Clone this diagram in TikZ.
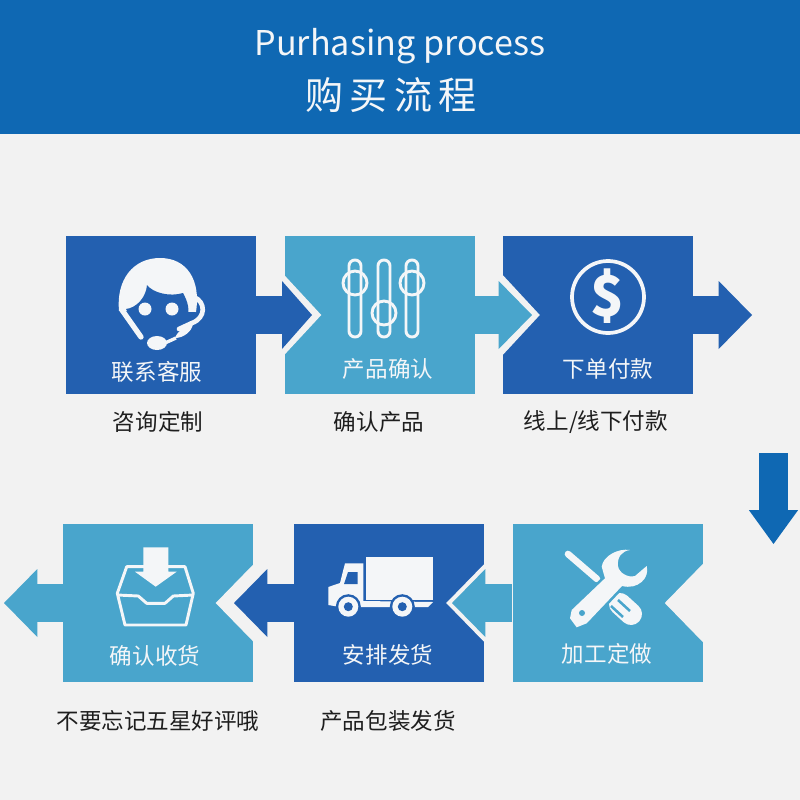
\documentclass[tikz,border=0pt]{standalone}
\usepackage{fontspec}
\setmainfont{Noto Sans CJK SC}
\newfontfamily\cjktitle[LetterSpace=17]{Noto Sans CJK SC}
\usetikzlibrary{arrows.meta,positioning}
\definecolor{PageGrey}{HTML}{F2F2F2}
\definecolor{HeadBlue}{HTML}{0F68B3}
\definecolor{DeepBlue}{HTML}{2360B0}
\definecolor{LakeBlue}{HTML}{49A5CC}
\definecolor{SnowIcon}{HTML}{F4F6F8}
\definecolor{InkText}{HTML}{1E1E1E}
\begin{document}
\begin{tikzpicture}[x=.75pt,y=-.75pt]
\tikzset{bluebox/.style={fill=DeepBlue,minimum width=142.5pt,minimum height=118.5pt,inner sep=0pt},
         lakebox/.style={fill=LakeBlue,minimum width=142.5pt,minimum height=118.5pt,inner sep=0pt},
         boxtext/.style={text=SnowIcon,inner sep=0pt,font=\fontsize{16.9pt}{20pt}\selectfont},
         capt/.style={text=InkText,inner sep=0pt,font=\fontsize{16.9pt}{20pt}\selectfont},
         notch/.style={fill=PageGrey},
         flow/.style={line width=28.5pt,-{Triangle[length=#1,width=51pt,line width=0pt]}},
         flow/.default=25pt,
         iconline/.style={draw=SnowIcon,line width=2.2pt,line join=round},
         iconfill/.style={fill=SnowIcon}}
\useasboundingbox (0,0) rectangle (800,800);
\fill[PageGrey] (0,0) rectangle (800,800);
\fill[HeadBlue] (0,0) rectangle (800,134);
\node[text=SnowIcon,inner sep=0pt,font=\fontsize{25.6pt}{30pt}\selectfont] (titleen) at (400,46) {Purhasing process};
\node[text=SnowIcon,inner sep=0pt,font=\fontsize{28.5pt}{34pt}\cjktitle] (titlecn) at (391,95) {购买流程};
% top row
\node[bluebox] (kefu) at (161,315) {};
\node[lakebox,right=21pt of kefu] (queren) {};
\node[bluebox,right=21pt of queren] (fukuan) {};
\coordinate (tipa) at (312,315);
\coordinate (tipb) at (532,315);
\coordinate (tipc) at (752,315);
% bottom row
\node[lakebox] (jiagong) at (607.5,603) {};
\node[bluebox,left=21pt of jiagong] (fahuo) {};
\node[lakebox,left=30pt of fahuo] (shouhuo) {};
\coordinate (tipd) at (452,603);
\coordinate (tipe) at (234,603);
\coordinate (tipf) at (4,603);
\foreach \boxname in {queren,fukuan}
  \fill[notch] (\boxname.west) ++(-1,-41) -- ++(38,41) -- ++(-38,41) -- cycle;
\foreach \boxname in {jiagong,fahuo,shouhuo}
  \fill[notch] (\boxname.east) ++(1,-40) -- ++(-39,40) -- ++(39,40) -- cycle;
\draw[flow=22.5pt,DeepBlue] (kefu.east) -- (tipa);
\draw[flow,LakeBlue] (queren.east) -- (tipb);
\draw[flow,DeepBlue] (fukuan.east) -- (tipc);
\draw[flow,LakeBlue] (jiagong.west) -- (tipd);
\draw[flow,DeepBlue] (fahuo.west) -- (tipe);
\draw[flow,LakeBlue] (shouhuo.west) -- (tipf);
\coordinate (downa) at (773.5,453);
\coordinate (downb) at (773.5,544);
\draw[HeadBlue,line width=21.8pt,-{Triangle[length=25.5pt,width=37pt,line width=0pt]}] (downa) -- (downb);
% labels
\node[boxtext] (kefutext) at (157,372) {联系客服};
\node[boxtext] (querentext) at (388,369) {产品确认};
\node[boxtext] (fukuantext) at (608,369) {下单付款};
\node[boxtext] (jiagongtext) at (607,654) {加工定做};
\node[boxtext] (fahuotext) at (388,655) {安排发货};
\node[boxtext] (shouhuotext) at (155,656) {确认收货};
\node[capt] (kefucap) at (158,422) {咨询定制};
\node[capt] (querencap) at (379,422) {确认产品};
\node[capt] (fukuancap) at (596,422) {线上/线下付款};
\node[capt] (shouhuocap) at (158,721) {不要忘记五星好评哦};
\node[capt] (fahuocap) at (388,721) {产品包装发货};
% headset icon
\fill[iconfill] (119,311) .. controls (116,280) and (133,258) .. (160,258) .. controls (187,258) and (201,280) .. (196,312) -- cycle;
\fill[DeepBlue] (126,309) .. controls (136,308) and (146,298) .. (147,285) .. controls (153,293) and (170,297) .. (183,293) .. controls (188,302) and (190,310) .. (187,318) -- (170,345) -- (146,345) -- cycle;
\draw[iconline,line width=4pt,line cap=round] (122,310) -- (141,337);
\draw[iconline,line width=3.5pt,line cap=round] (194,297) .. controls (206,302) and (206,318) .. (192,323) -- (179,329);
\fill[iconfill] (175,338) .. controls (178,330) and (186,326) .. (193,324) .. controls (192,331) and (184,338) .. (175,338) -- cycle;
\draw[iconline,line width=2.5pt] (165,343) -- (176,338);
\fill[iconfill] (145,309) circle (6.5);
\fill[iconfill] (172,309) circle (6.5);
\fill[iconfill] (157,343) ellipse (10 and 7);
% slider icon
\foreach \sx/\sy in {355/283,384/313,412/283}{
  \draw[iconline,rounded corners=4.4pt] (\sx-6,260) rectangle (\sx+6,337);
  \draw[iconline] (\sx,\sy) circle (12);
}
% dollar icon
\draw[iconline,line width=2.8pt] (608,297) circle (36);
\node[text=SnowIcon,inner sep=0pt,font=\fontsize{42pt}{48pt}\selectfont\bfseries] (dollar) at (608,296) {\$};
% wrench icon
\draw[SnowIcon,line width=5pt,line cap=round] (568,554) -- (597,579);
\draw[SnowIcon,line width=16.5pt,line cap=round] (620,604) -- (631,614);
\draw[LakeBlue,line width=1.9pt] (611,606) -- (623,617);
\draw[LakeBlue,line width=1.9pt] (618,600) -- (630,611);
\fill[iconfill,preaction={draw=LakeBlue,line width=4pt}] (571.7,610) -- (605,578.3) -- (601.7,566.7) .. controls (603,556) and (618,548) .. (630,550) .. controls (622,551) and (617,557) .. (618,566) .. controls (619,573) and (628,578) .. (635,576) -- (646.7,566) .. controls (650,578) and (638,590) .. (622,586) -- (586.7,623.3) -- (576.7,627.3) -- (570,618.3) -- cycle;
\fill[LakeBlue] (582,613) circle (3);
% truck icon
\fill[iconfill] (366,557) rectangle (433,600);
\fill[iconfill] (345,563.3) -- (363.3,563.3) -- (363.3,601) -- (433,602) -- (428,607) -- (340,607) -- (328.3,605) -- (328.3,587) -- (340,583) -- cycle;
\fill[DeepBlue] (348,572) -- (357.5,572) -- (357.5,584) -- (344,584) -- cycle;
\foreach \wx in {348.3,402.3}{
  \fill[DeepBlue] (\wx,606.7) circle (12.5);
  \fill[iconfill] (\wx,606.7) circle (10);
  \fill[DeepBlue] (\wx,606.7) circle (4.5);
}
% inbox icon
\draw[iconline] (126.7,566.7) -- (185,566.7) -- (193.3,593.3) -- (186,625) -- (125,625) -- (117.3,593.3) -- cycle;
\draw[iconline] (117.3,595) -- (138.3,596) -- (146.7,603.3) -- (165,603.3) -- (173.3,596) -- (193.3,595);
\fill[iconfill] (143.3,547.3) -- (168.3,547.3) -- (168.3,571.7) -- (176.7,571.7) -- (155.7,586.7) -- (135,571.7) -- (143.3,571.7) -- cycle;
\end{tikzpicture}
\end{document}
